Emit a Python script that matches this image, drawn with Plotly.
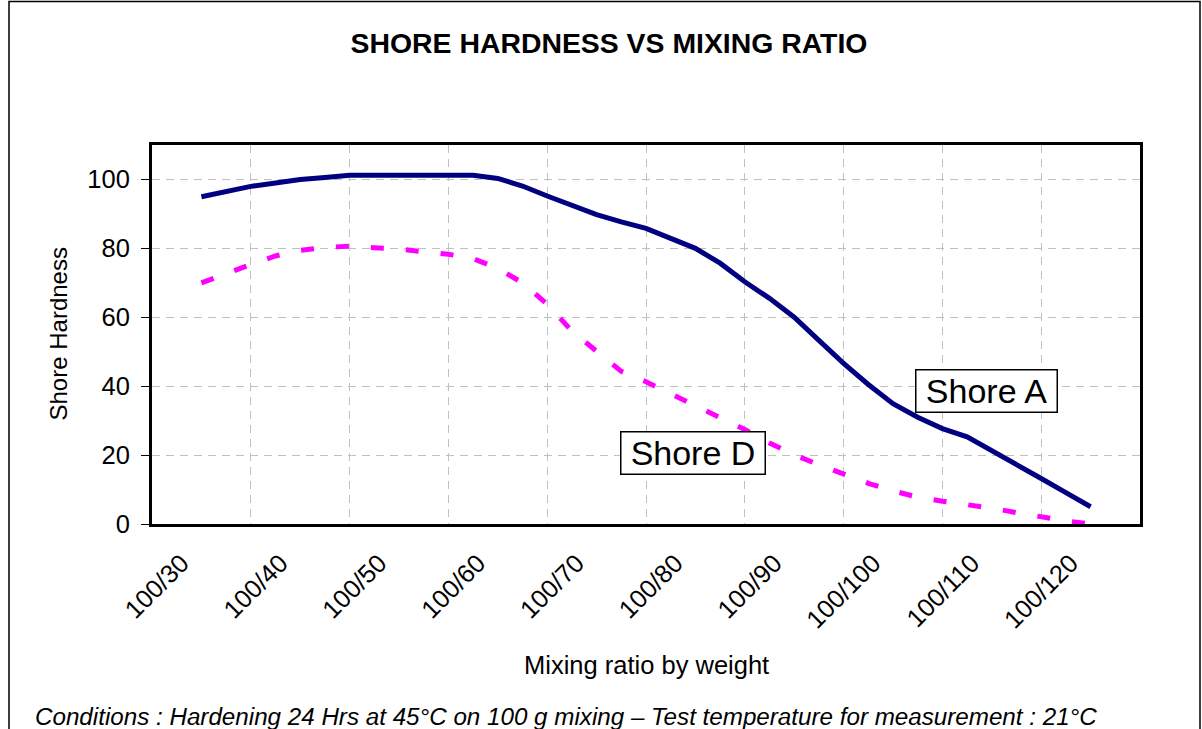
import plotly.graph_objects as go

# ---- data ----
ratio = [30, 32.5, 35, 37.5, 40, 42.5, 45, 47.5, 50, 52.5, 55, 57.5, 60, 62.5, 65, 67.5,
         70, 72.5, 75, 77.5, 80, 82.5, 85, 87.5, 90, 92.5, 95, 97.5, 100, 102.5, 105,
         107.5, 110, 112.5, 115, 117.5, 120]
shore_a = [95, 96.5, 98, 99, 100, 100.6, 101.2, 101.2, 101.2, 101.2, 101.2, 101.2, 100.3,
           98.1, 95.2, 92.5, 89.8, 87.7, 85.8, 82.9, 80.0, 75.7, 70.3, 65.5, 60.0, 53.3,
           46.6, 40.5, 34.9, 31.0, 27.7, 25.3, 21.4, 17.3, 13.2, 9.1, 5.0]
shore_d = [70, 72.8, 75.3, 77.8, 79.4, 80.3, 80.6, 80.2, 79.8, 79.0, 78.3, 77.0, 74.2,
           70.0, 63.8, 56.0, 50.0, 44.3, 41.3, 37.8, 34.4, 31.0, 27.4, 23.5, 20.1, 17.2,
           14.6, 11.8, 9.6, 7.8, 6.6, 5.7, 4.6, 3.3, 2.0, 0.9, 0.0]
label_vals = [30, 40, 50, 60, 70, 80, 90, 100, 110, 120]
label_text = ["100/30", "100/40", "100/50", "100/60", "100/70", "100/80", "100/90",
              "100/100", "100/110", "100/120"]
grid_vals = [35, 45, 55, 65, 75, 85, 95, 105, 115]
y_ticks = [0, 20, 40, 60, 80, 100]

FONT = "Arial, 'Liberation Sans', sans-serif"
GRID = "#C0C0C0"
TICK_SHIFT = 2.0  # rotated labels sit slightly left of their category

fig = go.Figure()
fig.add_trace(go.Scatter(x=ratio, y=shore_a, mode="lines", name="Shore A",
                         line=dict(color="#000080", width=5), showlegend=False))
fig.add_trace(go.Scatter(x=ratio, y=shore_d, mode="lines", name="Shore D",
                         line=dict(color="#FF00FF", width=5, dash="13px,22px"),
                         showlegend=False))

# plot-area pixel geometry
L, R, T, B = 152, 1140, 145, 524
W, H = R - L, B - T

def px(xp):
    return (xp - L) / W

def py(yp):
    return (B - yp) / H

fig.update_layout(
    width=1202, height=729,
    margin=dict(l=L, r=1202 - R, t=T, b=729 - B),
    paper_bgcolor="white", plot_bgcolor="white",
    font=dict(family=FONT, color="black", size=25),
    title=dict(text="<b>SHORE HARDNESS VS MIXING RATIO</b>", x=609 / 1202, xref="container",
               xanchor="center", y=1 - 43 / 729, yref="container", yanchor="middle",
               font=dict(size=28.4, family=FONT, color="black")),
    xaxis=dict(range=[25, 125], tickmode="array",
               tickvals=[v - TICK_SHIFT for v in label_vals], ticktext=label_text,
               tickangle=-45, showgrid=False, zeroline=False, showline=True, mirror=True,
               linecolor="black", linewidth=3, ticks="", tickfont=dict(size=25.5),
               ticklabelstandoff=11,
               minor=dict(tickmode="array", tickvals=grid_vals, showgrid=True,
                          gridcolor=GRID, griddash="8px,6px", gridwidth=1, ticks="")),
    yaxis=dict(range=[0, 110], tickmode="array", tickvals=y_ticks, showgrid=True,
               gridcolor=GRID, griddash="8px,6px", gridwidth=1, zeroline=False,
               showline=True, mirror=True, linecolor="black", linewidth=3,
               ticks="outside", ticklen=8, tickwidth=1, tickcolor="black",
               tickfont=dict(size=25.5), ticklabelstandoff=6),
)

annots = [
    dict(text="Shore A", x=109.5, y=38.6, xref="x", yref="y", showarrow=False,
         font=dict(size=34, family=FONT, color="black"), bgcolor="white",
         bordercolor="black", borderwidth=1.5, borderpad=0, width=140, height=41),
    dict(text="Shore D", x=79.8, y=20.5, xref="x", yref="y", showarrow=False,
         font=dict(size=34, family=FONT, color="black"), bgcolor="white",
         bordercolor="black", borderwidth=1.5, borderpad=0, width=143, height=41),
    dict(text="Mixing ratio by weight", x=0.5, y=py(665), xref="paper", yref="paper",
         showarrow=False, font=dict(size=25.5, family=FONT, color="black"),
         xanchor="center", yanchor="middle"),
    dict(text="Shore Hardness", x=px(58), y=0.5, xref="paper", yref="paper",
         showarrow=False, textangle=-90, font=dict(size=24, family=FONT, color="black"),
         xanchor="center", yanchor="middle"),
    dict(text="<i>Conditions : Hardening 24 Hrs at 45°C on 100 g mixing – Test temperature for measurement : 21°C</i>",
         x=px(33), y=py(716), xref="paper", yref="paper", showarrow=False,
         font=dict(size=24.2, family=FONT, color="black"), xanchor="left", yanchor="middle"),
]
fig.update_layout(annotations=annots)

# outer chart border
fig.add_shape(type="rect", xref="paper", yref="paper",
              x0=px(9), x1=px(1200), y0=py(745), y1=py(1.5),
              line=dict(color="black", width=1.5), fillcolor="rgba(0,0,0,0)", layer="below")

fig.write_html("out.html", config={"displayModeBar": False},
               post_script="document.body.style.margin='0px';document.body.style.overflow='hidden';")
